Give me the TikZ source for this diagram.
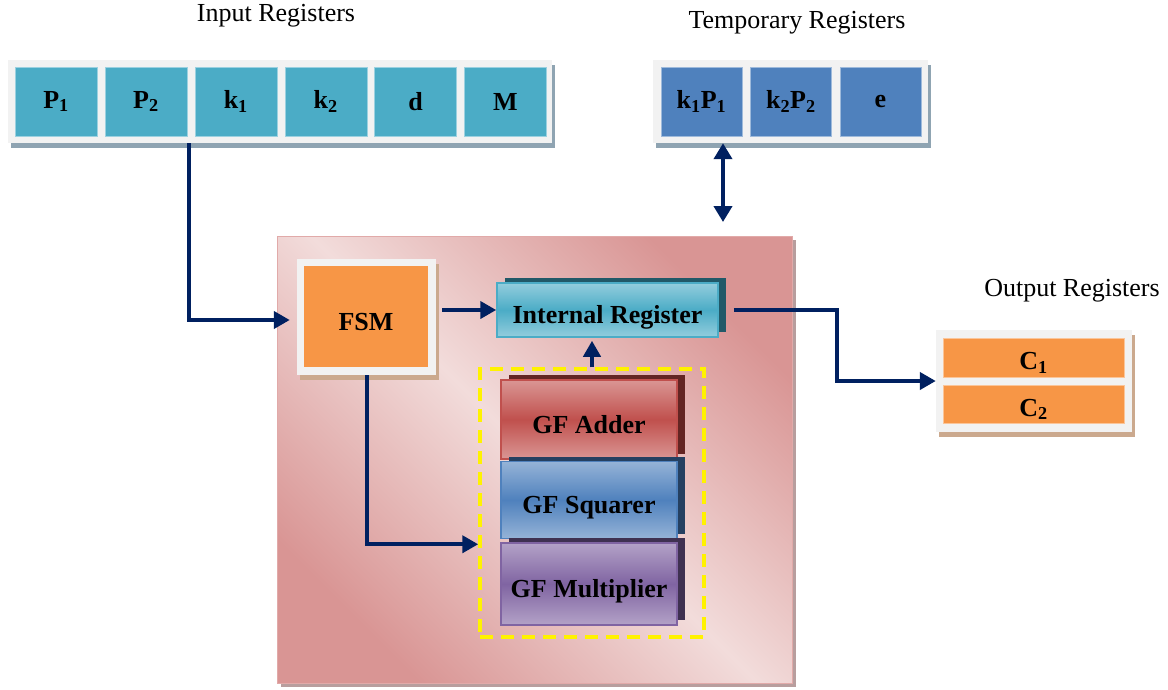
\documentclass[tikz,border=0pt]{standalone}
\usepackage{fontspec}
\setmainfont{Liberation Serif}
\usetikzlibrary{positioning, shadows, arrows.meta}
\definecolor{regTeal}{HTML}{4BACC6}
\definecolor{regTealLight}{HTML}{93CDDD}
\definecolor{regTealDark}{HTML}{215968}
\definecolor{regBlue}{HTML}{4F81BD}
\definecolor{regBlueLight}{HTML}{95B3D7}
\definecolor{regBlueDark}{HTML}{254061}
\definecolor{regRed}{HTML}{C0504D}
\definecolor{regRedLight}{HTML}{DA9694}
\definecolor{regRedDark}{HTML}{632523}
\definecolor{regPurple}{HTML}{8064A2}
\definecolor{regPurpleLight}{HTML}{B3A2C7}
\definecolor{regPurpleDark}{HTML}{3F3151}
\definecolor{regOrange}{HTML}{F79646}
\definecolor{coreDark}{HTML}{D99594}
\definecolor{coreLight}{HTML}{F2DCDB}
\definecolor{coreShade}{HTML}{B89E9E}
\definecolor{busBlue}{HTML}{002060}
\definecolor{frameGray}{HTML}{F2F2F2}
\definecolor{stripShade}{HTML}{8FA4B2}
\definecolor{tanShade}{HTML}{CBA98E}

\begin{document}
\begin{tikzpicture}[x=1pt, y=-1pt,
  lbl/.style={font=\fontsize{26}{28}\selectfont},
  bold/.style={font=\fontsize{26}{28}\selectfont\bfseries, text height=27pt, text depth=0pt},
  cell/.style={draw=#1!55!white, fill=#1, thin, inner sep=0pt, minimum width=82pt, minimum height=69pt, font=\fontsize{26}{28}\selectfont\bfseries},
  strip/.style={fill=frameGray, inner sep=0pt, general shadow={fill=#1, shadow xshift=3pt, shadow yshift=-5pt}},
  unit/.style n args={3}{draw=#1, line width=1.5pt, top color=#2, bottom color=#2, middle color=#1, inner sep=0pt, general shadow={fill=#3, shadow xshift=8pt, shadow yshift=5pt}},
  bus/.style={busBlue, line width=4pt, -{Triangle[length=16pt, width=17pt]}},
  dbus/.style={busBlue, line width=4pt, {Triangle[length=16pt, width=18pt]}-{Triangle[length=16pt, width=18pt]}}
]
\useasboundingbox (0,0) rectangle (1168,689);

% input registers
\node[lbl] (inTitle) at (276,16) {Input Registers};
\node[strip=stripShade, minimum width=544pt, minimum height=83pt] (instrip) at (280,101.5) {};
\node[cell=regTeal] (inP1) at (56,101.5) {P\textsubscript{1}};
\node[cell=regTeal, right=7.5pt of inP1] (inP2) {P\textsubscript{2}};
\node[cell=regTeal, right=7.5pt of inP2] (inK1) {k\textsubscript{1}};
\node[cell=regTeal, right=7.5pt of inK1] (inK2) {k\textsubscript{2}};
\node[cell=regTeal, right=7.5pt of inK2] (inD) {d};
\node[cell=regTeal, right=7.5pt of inD] (inM) {M};

% temporary registers
\node[lbl] (tmpTitle) at (797,23) {Temporary Registers};
\node[strip=stripShade, minimum width=275pt, minimum height=83pt] (tmpstrip) at (790.5,101.5) {};
\node[cell=regBlue, minimum width=81pt] (tmpKP1) at (701.5,101.5) {k\textsubscript{1}P\textsubscript{1}};
\node[cell=regBlue, minimum width=81pt, right=8pt of tmpKP1] (tmpKP2) {k\textsubscript{2}P\textsubscript{2}};
\node[cell=regBlue, minimum width=81pt, right=8pt of tmpKP2] (tmpE) {e};

% output registers
\node[lbl] (outTitle) at (1072,291) {Output Registers};
\node[strip=tanShade, minimum width=196pt, minimum height=102pt] (outstrip) at (1034,381) {};
\node[cell=regOrange, minimum width=181pt, minimum height=39pt, text height=24pt, text depth=0pt] (outC1) at (1033.5,357.5) {C\textsubscript{1}};
\node[cell=regOrange, minimum width=181pt, minimum height=38pt, text height=24pt, text depth=0pt] (outC2) at (1033.5,404) {C\textsubscript{2}};

% processor core
\node[draw=coreDark!80, thin, top color=coreDark, bottom color=coreDark, middle color=coreLight, shading angle=-45, minimum width=515pt, minimum height=447pt, general shadow={fill=coreShade, shadow xshift=4pt, shadow yshift=-4pt}] (core) at (534.5,459.5) {};

\node[strip=tanShade, minimum width=139pt, minimum height=116pt] (fsmframe) at (366.5,317) {};
\node[fill=regOrange, bold, minimum width=124pt, minimum height=101pt, inner sep=0pt] (fsm) at (366,316.5) {FSM};

\node[unit={regTeal}{regTealLight}{regTealDark}, bold, minimum width=221pt, minimum height=54pt] (intreg) at (607.5,310) {Internal Register};

\node[draw=yellow, line width=3.5pt, dash pattern=on 13pt off 8pt, minimum width=224pt, minimum height=268pt] (gfgroup) at (592,503) {};
\node[unit={regRed}{regRedLight}{regRedDark}, bold, minimum width=176pt, minimum height=79pt] (adder) at (589,419.5) {GF Adder};
\node[unit={regBlue}{regBlueLight}{regBlueDark}, bold, minimum width=176pt, minimum height=77pt, below=1pt of adder] (squarer) {GF Squarer};
\node[unit={regPurple}{regPurpleLight}{regPurpleDark}, bold, minimum width=176pt, minimum height=82pt, below=3pt of squarer] (mult) {GF Multiplier};

% buses
\draw[bus] ([xshift=-6pt]inK1.west |- instrip.south) |- ([xshift=-7pt, yshift=-3pt]fsmframe.west);
\coordinate (tmpport) at (723,222);
\draw[dbus] (tmpport) -- (tmpport |- tmpstrip.south);
\draw[bus] ([xshift=6pt]fsmframe.east |- intreg.west) -- (intreg.west);
\draw[bus] (fsmframe.south) |- ([yshift=-5pt]gfgroup.west |- squarer.south);
\draw[bus, shorten >=3pt] (gfgroup.north) -- (gfgroup.north |- intreg.south);
\draw[bus] ([xshift=15pt]intreg.east) -- ++(103,0) |- (outstrip.west);
\end{tikzpicture}
\end{document}
